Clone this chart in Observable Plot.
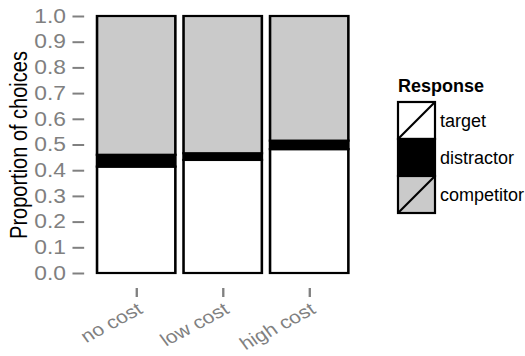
<!DOCTYPE html>
<html>
<head>
<meta charset="utf-8">
<script src="https://cdn.jsdelivr.net/npm/d3@7"></script>
<script src="https://cdn.jsdelivr.net/npm/@observablehq/plot@0.6"></script>
<style>
  html, body { margin: 0; padding: 0; background: #fff; }
  #wrap { position: relative; width: 525px; height: 356px; overflow: hidden; font-family: "Liberation Sans", Arial, sans-serif; }
  #chart { position: absolute; left: 0; top: 0; width: 449px; height: 356px; transform: scaleX(1.169); transform-origin: 0 0; }
  #legend { position: absolute; left: 390px; top: 72px; }
</style>
</head>
<body>
<div id="wrap"><div id="chart"></div></div>
<script>
const conditions = ["no cost", "low cost", "high cost"];
const responses = ["target", "distractor", "competitor"];
const target = [0.414, 0.440, 0.482];
const distractor = [0.046, 0.026, 0.033];
const competitor = [0.540, 0.534, 0.485];
const fills = ["#ffffff", "#000000", "#cacaca"];
const yTicks = [0, 0.1, 0.2, 0.3, 0.4, 0.5, 0.6, 0.7, 0.8, 0.9, 1.0];

const series = {target, distractor, competitor};
const rows = [];
conditions.forEach((c, i) => responses.forEach(r => rows.push({condition: c, response: r, value: series[r][i]})));

const chart = Plot.plot({
  width: 449,
  height: 356,
  marginLeft: 72,
  marginRight: 140,
  marginTop: 16,
  marginBottom: 83,
  style: {fontFamily: "Liberation Sans, Arial, sans-serif", background: "#fff"},
  x: {domain: conditions, paddingInner: 0.1, paddingOuter: 0.15},
  y: {domain: [0, 1]},
  color: {domain: responses, range: fills},
  marks: [
    Plot.barY(rows, Plot.stackY({
      x: "condition", y: "value", fill: "response",
      order: responses, stroke: "#000", strokeWidth: 2.2, inset: 0
    })),
    Plot.axisY({ticks: yTicks, tickFormat: d3.format(".1f"), tickSize: 10, tickPadding: 6,
      color: "#808080", strokeWidth: 2, fontSize: 19.5, className: "ytick", label: null}),
    Plot.axisY({ticks: [], label: "Proportion of choices", labelAnchor: "center",
      labelArrow: "none", labelOffset: 64, color: "#000", fontSize: 20, className: "ylab"}),
    Plot.axisX({tickSize: 9, tickFormat: () => "", dy: 15, color: "#808080", strokeWidth: 2, label: null}),
    Plot.axisX({tickSize: 0, tickRotate: -32, tickPadding: 0, dx: 3, dy: 34,
      color: "#808080", fontSize: 18, className: "xtick", label: null})
  ]
});
document.getElementById("chart").appendChild(chart);
// make sure the requested sizes reach the text nodes
d3.select(chart).selectAll("g.ytick text, g.ytick").attr("font-size", 19.5);
d3.select(chart).selectAll("g.xtick text, g.xtick").attr("font-size", 18);
d3.select(chart).selectAll("g.ylab text, g.ylab").attr("font-size", 20);

// Legend
const sw = 37;
const leg = d3.select("#wrap").append("svg")
  .attr("id", "legend").attr("width", 135).attr("height", 150)
  .style("font-family", "Liberation Sans, Arial, sans-serif");
leg.append("text").attr("x", 8).attr("y", 20).attr("font-weight", "bold")
  .attr("font-size", 18).attr("fill", "#000").text("Response");
const items = leg.selectAll("g.item").data(responses).join("g")
  .attr("transform", (d, i) => `translate(8,${30 + i * sw})`);
items.append("rect").attr("width", sw).attr("height", sw)
  .attr("fill", (d, i) => fills[i]).attr("stroke", "#000").attr("stroke-width", 2.2);
items.filter(d => d !== "distractor").append("line")
  .attr("x1", 0).attr("y1", sw).attr("x2", sw).attr("y2", 0)
  .attr("stroke", "#000").attr("stroke-width", 2.2);
items.append("text").attr("x", sw + 5).attr("y", sw / 2).attr("dy", "0.35em")
  .attr("font-size", 18).attr("fill", "#000").text(d => d);
</script>
</body>
</html>
